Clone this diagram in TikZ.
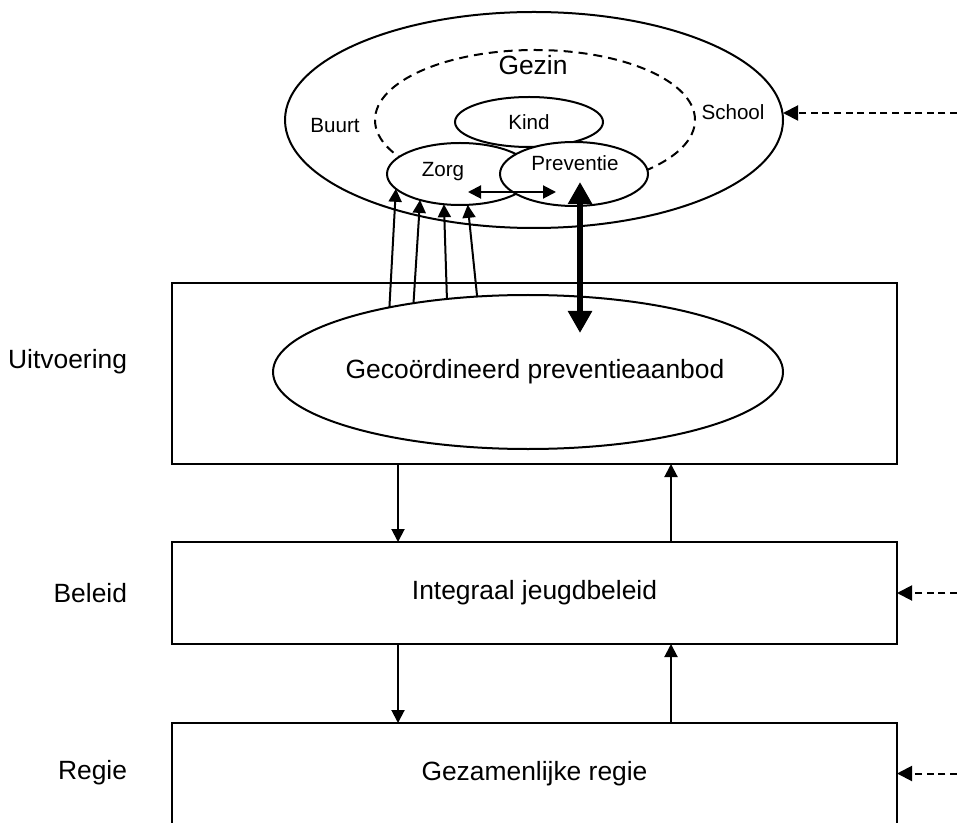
\documentclass[tikz,border=0pt]{standalone}
\usepackage{fontspec}
\setmainfont{Liberation Sans}
\usetikzlibrary{arrows.meta, shapes.geometric, positioning}

\begin{document}
\begin{tikzpicture}[
  x=0.5pt, y=-0.5pt, line width=1pt,
  font=\fontsize{13.2}{15}\selectfont,
  >={Triangle[length=6.5pt,width=6.5pt]},
  ovaal/.style={draw, ellipse, inner sep=0pt, outer sep=0pt},
  laag/.style={draw, rectangle, inner sep=0pt, outer sep=0pt,
               minimum width=362.5pt},
  klein/.style={font=\fontsize{10.3}{12}\selectfont},
  pijl/.style={->, line width=1pt},
  dikpijl/.style={{Triangle[length=11pt,width=11.5pt]}-{Triangle[length=11pt,width=11.5pt]},
                  line width=3pt},
  invloed/.style={-{Triangle[length=7.5pt,width=7.5pt]},
                  dash pattern=on 3.5pt off 2.3pt}
]
\useasboundingbox (0,0) rectangle (957,823);

% omgeving van het kind
\node[ovaal, minimum width=249pt, minimum height=108pt] (buiten) at (534,120) {};
\node[ovaal, dash pattern=on 4.5pt off 3pt,
      minimum width=160pt, minimum height=70pt] (gezin) at (535,120) {};
\node[ovaal, fill=white, minimum width=74pt, minimum height=25pt, klein] (kind) at (529,122) {Kind};
\node[ovaal, fill=white, minimum width=73pt, minimum height=31pt] (zorg) at (460,174) {};
\node[ovaal, fill=white, minimum width=74pt, minimum height=32pt] (prev) at (574,174) {};

\node (gezintxt) at (533,65) {Gezin};
\node[klein] (buurttxt) at (335,126) {Buurt};
\node[klein] (schooltxt) at (733,112) {School};
\node[klein] (zorgtxt) at (443,172) {Zorg};
\node[klein] (prevtxt) at (575,163) {Preventie};

% de drie lagen
\node[laag, minimum height=90.5pt] (uitv) at (534.5,373.5) {};
\node[laag, minimum height=51pt] (beleid) at (534.5,593) {Integraal jeugdbeleid};
\node[laag, minimum height=50.5pt] (regie) at (534.5,773.5) {Gezamenlijke regie};
\node[ovaal, minimum width=255pt, minimum height=77pt] (aanbod) at (528,372) {};
\node (aanbodtxt) at (535,372) {Gecoördineerd preventieaanbod};

\node[anchor=east, inner sep=0pt] (uitvtxt) at (128,362) {Uitvoering};
\node[anchor=east, inner sep=0pt] (beleidtxt) at (128,593) {Beleid};
\node[anchor=east, inner sep=0pt] (regietxt) at (128,773) {Regie};

% pijlen
\draw[pijl] (aanbod.155.6) -- (zorg.193.9);
\draw[pijl] (aanbod.149.8) -- (zorg.213);
\draw[pijl] (aanbod.138.6) -- (zorg.242);
\draw[pijl] (aanbod.124.2) -- (zorg.284.6);
\draw[pijl, <->] ([xshift=4pt,yshift=-9pt]zorg.center) -- ([xshift=-9pt,yshift=-9pt]prev.center);
\draw[dikpijl] ([xshift=3pt,yshift=-4pt]prev.center) -- ([xshift=26pt,yshift=19.5pt]aanbod.center);

\draw[pijl] ([xshift=-68.25pt]uitv.south) -- ([xshift=-68.25pt]beleid.north);
\draw[pijl] ([xshift=68.25pt]beleid.north) -- ([xshift=68.25pt]uitv.south);
\draw[pijl] ([xshift=-68.25pt]beleid.south) -- ([xshift=-68.25pt]regie.north);
\draw[pijl] ([xshift=68.25pt]regie.north) -- ([xshift=68.25pt]beleid.south);

\coordinate (inGezin) at (957,113);
\coordinate (inBeleid) at (957,593);
\coordinate (inRegie) at (957,773.5);
\draw[invloed] (inGezin) -- (inGezin -| buiten.east);
\draw[invloed] (inBeleid) -- (beleid.east);
\draw[invloed] (inRegie) -- (regie.east);

\end{tikzpicture}
\end{document}
